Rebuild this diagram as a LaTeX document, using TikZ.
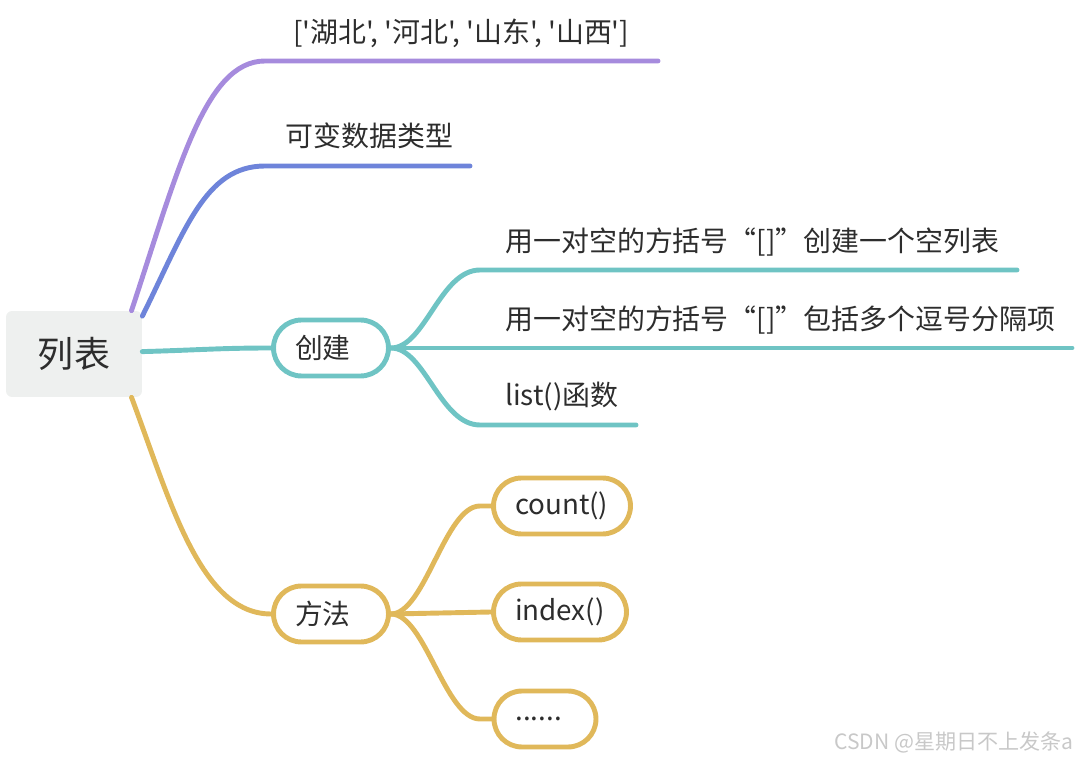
\documentclass[tikz,border=0pt]{standalone}
\usepackage{fontspec}
\setmainfont{Noto Sans CJK SC}[Ligatures=TeXOff]
\definecolor{Ink}{RGB}{45, 45, 45}
\definecolor{RootGray}{RGB}{238, 240, 239}
\definecolor{Lilac}{RGB}{166, 139, 221}
\definecolor{Cornflower}{RGB}{110, 132, 218}
\definecolor{Teal}{RGB}{111, 196, 196}
\definecolor{Mustard}{RGB}{224, 184, 90}
\definecolor{Mark}{RGB}{200, 200, 200}

\begin{document}
\begin{tikzpicture}[x=0.02cm, y=-0.02cm,
    every node/.style={text=Ink},
    rootbox/.style={fill=RootGray, rounded corners=0.12cm, minimum width=2.72cm, minimum height=1.72cm, font=\fontsize{20.5pt}{24pt}\selectfont},
    pill/.style={draw=#1, fill=white, line width=2.8pt, rounded corners=0.56cm, minimum height=1.12cm, inner xsep=0.43cm, align=left, font=\fontsize{15.8pt}{18pt}\selectfont},
    leaf/.style={anchor=base west, inner sep=0pt, font=\fontsize{15.9pt}{18pt}\selectfont},
    branch/.style={draw=#1, line width=2.8pt, line cap=round}]
    \useasboundingbox (0,0) rectangle (1076,759);

    % main nodes
    \node[rootbox] (root) at (74,354) {列表};
    \node[pill=Teal, text width=1.44cm] (create) at (331,348) {创建};
    \node[pill=Mustard, text width=1.44cm] (method) at (331,614) {方法};
    \node[pill=Mustard, text width=1.88cm] (count) at (562,506) {count()};
    \node[pill=Mustard, text width=1.80cm] (index) at (560,612) {index()};
    \node[pill=Mustard, text width=1.18cm] (more) at (545,719) {......};

    % leaf texts
    \node[leaf] (list) at (293,43) {['湖北', '河北', '山东', '山西']};
    \node[leaf] (mutable) at (285,147) {可变数据类型};
    \node[leaf] (empty) at (505,252) {用一对空的方括号“[]”创建一个空列表};
    \node[leaf] (comma) at (505,330) {用一对空的方括号“[]”包括多个逗号分隔项};
    \node[leaf] (func) at (505,406) {list()函数};

    % leaf lines
    \coordinate (list-a) at (265,61);     \coordinate (list-b) at (658,61);
    \coordinate (mutable-a) at (265,166); \coordinate (mutable-b) at (470,166);
    \coordinate (empty-a) at (480,270);   \coordinate (empty-b) at (1017,270);
    \coordinate (comma-b) at (1072,348);
    \coordinate (func-a) at (480,425);    \coordinate (func-b) at (636,425);
    \coordinate (count-a) at (480,506);
    \coordinate (more-a) at (480,719);

    % branches from the root
    \draw[branch=Lilac] (root.37) .. controls (178,170) and (205,61) .. (list-a) -- (list-b);
    \draw[branch=Cornflower] (root.29) .. controls (185,230) and (205,166) .. (mutable-a) -- (mutable-b);
    \draw[branch=Teal] (root.2) .. controls (200,350) and (220,348) .. (create.west);
    \draw[branch=Mustard] (root.-37) .. controls (170,500) and (200,614) .. (method.west);

    % branches of 创建
    \draw[branch=Teal] (create.east) .. controls (425,348) and (440,270) .. (empty-a) -- (empty-b);
    \draw[branch=Teal] (create.east) -- (comma-b);
    \draw[branch=Teal] (create.east) .. controls (425,348) and (440,425) .. (func-a) -- (func-b);

    % branches of 方法
    \draw[branch=Mustard] (method.east) .. controls (425,614) and (445,506) .. (count-a) -- (count.west);
    \draw[branch=Mustard] (method.east) -- (index.west);
    \draw[branch=Mustard] (method.east) .. controls (425,614) and (445,719) .. (more-a) -- (more.west);

    \node[anchor=base east, inner sep=0pt, text=Mark, font=\fontsize{12pt}{14pt}\selectfont] (mark) at (1074,750) {CSDN @星期日不上发条a};
\end{tikzpicture}
\end{document}
